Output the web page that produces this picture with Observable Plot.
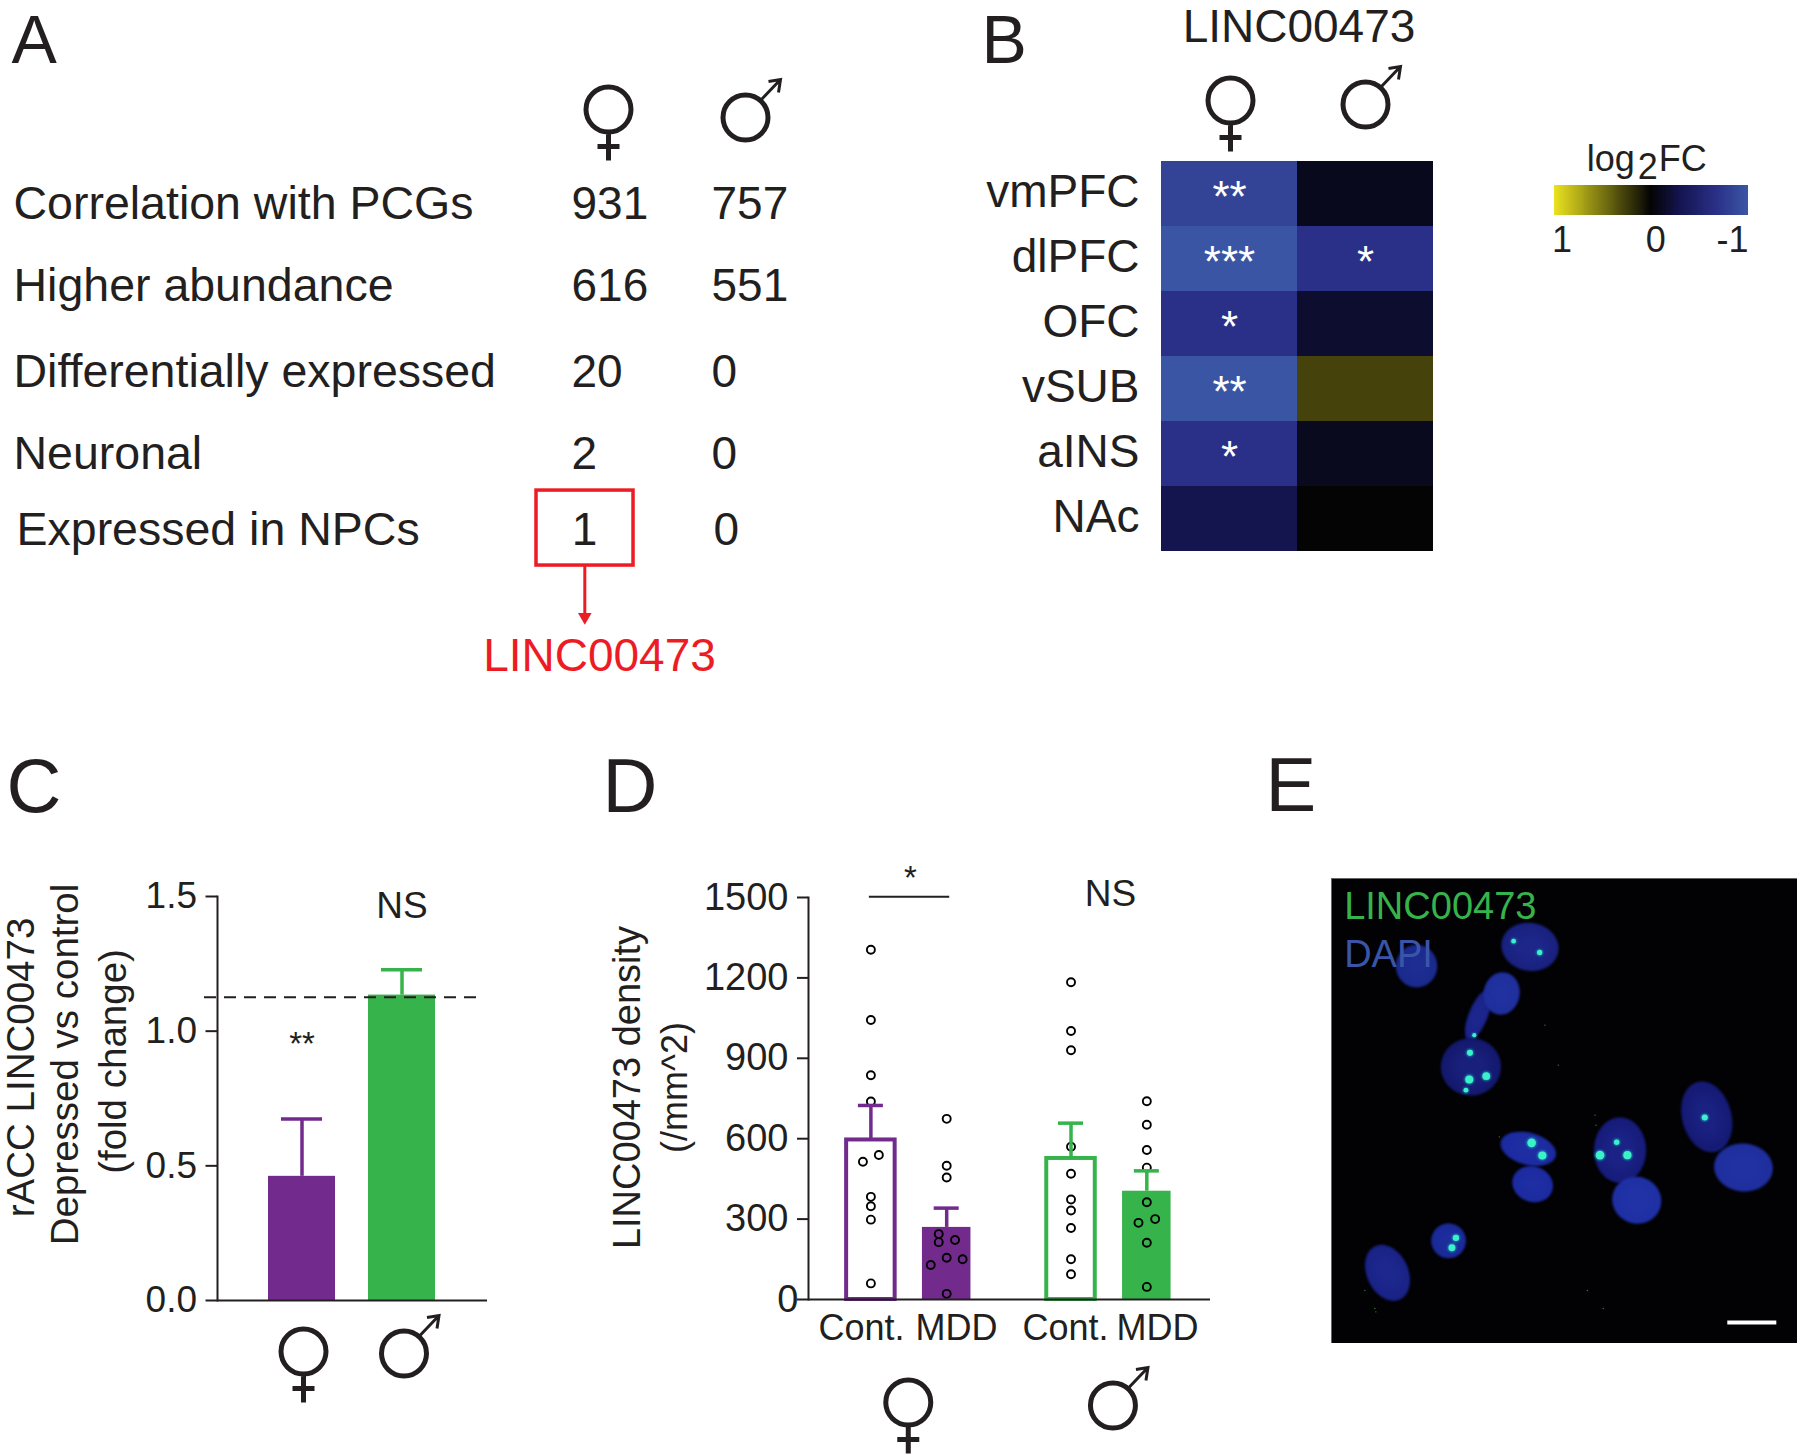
<!DOCTYPE html>
<html><head><meta charset="utf-8">
<script src="https://cdn.jsdelivr.net/npm/d3@7"></script>
<script src="https://cdn.jsdelivr.net/npm/@observablehq/plot@0.6"></script>
<style>
html,body{margin:0;padding:0;background:#fff}
#fig{position:relative;width:1800px;height:1455px;overflow:hidden;background:#fff}
#fig svg{position:absolute;background:transparent;max-width:none}
</style></head><body><div id="fig"></div>
<script>
// ---------- data ----------
const tableRows = ["Correlation with PCGs","Higher abundance","Differentially expressed","Neuronal","Expressed in NPCs"];
const femaleCounts = [931,616,20,2,1];
const maleCounts = [757,551,0,0,0];
const regions = ["vmPFC","dlPFC","OFC","vSUB","aINS","NAc"];
const heatFemale = [-0.85,-1,-0.68,-1,-0.68,-0.3];
const heatMale = [-0.1,-0.68,-0.17,0.28,-0.11,0];
const starsFemale = ["**","***","*","**","*",""];
const starsMale = ["","*","","","",""];
const sexes = ["♀","♂"];
const foldMean = [0.461,1.134];
const foldUpper = [0.674,1.228];
const foldRef = 1.126;
const groups = ["Cont.","MDD","Cont.","MDD"];
const densityMean = [599,269,530,404];
const densityUpper = [724,341,658,480];
const femaleContDots = [1305,1043,837,739,539,514,383,348,298,60];
const femaleContJitter = [0,0,0,0,.105,-.105,0,0,0,0];
const femaleMddDots = [674,499,455,244,214,222,156,150,129,21];
const femaleMddJitter = [0,0,0,-.105,-.105,.11,0,.21,-.21,0];
const maleContDots = [1184,1002,930,570,469,373,332,267,150,94];
const maleMddDots = [740,652,558,492,363,286,300,212,47];
const maleMddJitter = [0,0,0,0,0,-.11,.11,0,0];
const panelLetters = ["A","B","C","D","E"];

// ---------- layout constants ----------
const ink = "#231f20", purple = "#722b8d", green = "#36b34a", red = "#ed1c24";
const sans = "Liberation Sans";
const fig = document.getElementById("fig");
function place(p, left, top){ p.style.left = left+"px"; p.style.top = top+"px"; fig.appendChild(p); }
const rowNudge = [0,0,5,5.5,0];
const slots = [0,1,2.64,3.64];
const labelSlots = [-.124,1.13,2.567,3.78];
const barHalf = .32, capHalf = .165;
const letterX = [11,981,6,602,1265], letterY = [62,62,811,811,810], letterSize = [68,68,76,76,76];

// sex pictograms drawn as custom dot symbols
const venusSymbol = {draw(c){c.moveTo(22.5,0);c.arc(0,0,22.5,0,2*Math.PI);c.moveTo(0,22.5);c.lineTo(0,51);c.moveTo(-11,37);c.lineTo(11,37);}};
const marsRing = {draw(c){c.moveTo(22.5,0);c.arc(0,0,22.5,0,2*Math.PI);}};
const marsArrow = {draw(c){c.moveTo(15,-17);c.lineTo(35,-38);c.moveTo(23,-36);c.lineTo(35,-38);c.lineTo(33,-25);}};
const sexMark = (sex,o)=> sex===sexes[0]
  ? [Plot.dot([sex],{...o,symbol:venusSymbol,r:1,fill:"none",stroke:ink,strokeWidth:5,ariaLabel:"female"})]
  : [Plot.dot([sex],{...o,symbol:marsRing,r:1,fill:"none",stroke:ink,strokeWidth:5,ariaLabel:"male"}),
     Plot.dot([sex],{...o,symbol:marsArrow,r:1,fill:"none",stroke:ink,strokeWidth:3,ariaLabel:"male"})];

// Panel A table
const tableData = tableRows.map((r,i)=>({row:r,i,f:femaleCounts[i],m:maleCounts[i]}));
place(Plot.plot({
  width:980,height:700,marginLeft:13,marginRight:0,marginTop:0,marginBottom:0,
  x:{domain:[0,1],range:[571,711],axis:null},
  y:{domain:[0,4],range:[204,530],axis:null},
  style:{fontFamily:sans,color:ink,background:"transparent"},
  marks:[
    ...tableData.map(d=>Plot.text([d],{frameAnchor:"left",y:"i",text:"row",fontSize:46.5,fill:ink,textAnchor:"start",dy:rowNudge[d.i],dx:d.i===4?3:0})),
    ...tableData.map(d=>Plot.text([d],{x:()=>0,y:"i",text:"f",fontSize:46,fill:ink,textAnchor:d.i===4?"middle":"start",dx:d.i===4?13:0,dy:rowNudge[d.i]})),
    ...tableData.map(d=>Plot.text([d],{x:()=>1,y:"i",text:"m",fontSize:46,fill:ink,textAnchor:"start",dx:d.i===4?2:0,dy:rowNudge[d.i]})),
    ...sexMark(sexes[0],{x:()=>0,y:()=>-1,dx:37,dy:-13.5}),
    ...sexMark(sexes[1],{x:()=>1,y:()=>-1,dx:34,dy:-5.5}),
    Plot.rect([0],{x1:-.25,x2:.443,y1:3.51,y2:4.43,fill:"none",stroke:red,strokeWidth:3.5}),
    Plot.ruleX([.095],{y1:4.43,y2:5.04,stroke:red,strokeWidth:3}),
    Plot.dot([0],{x:.095,y:5.06,symbol:"triangle2",r:6.5,fill:red,rotate:180}),
    Plot.text(["LINC00473"],{x:.2,y:5.54,fontSize:46,fill:red})
  ]
}),0,0);

// Panel B heatmap
const heat = regions.flatMap((r,i)=>[
  {region:r,sex:sexes[0],v:heatFemale[i],s:starsFemale[i]},
  {region:r,sex:sexes[1],v:heatMale[i],s:starsMale[i]}
]);
const colorScale = {type:"linear",domain:[-1,-.68,-.3,0,1],range:["#3a55a4","#2a3088","#14144f","#040404","#ece41e"],interpolate:"rgb"};
place(Plot.plot({
  width:450,height:560,marginLeft:176,marginRight:1,marginTop:160,marginBottom:8,
  x:{domain:sexes,padding:0,axis:null},
  y:{domain:regions,padding:0,label:null},
  color:colorScale,
  style:{fontFamily:sans,color:ink,background:"transparent"},
  marks:[
    Plot.cell(heat,{x:"sex",y:"region",fill:"v"}),
    Plot.text(heat.filter(d=>d.s),{x:"sex",y:"region",text:"s",fill:"white",fontSize:44,dy:4}),
    Plot.axisY({tickSize:0,tickPadding:21,fontSize:46,label:null,fill:ink,dy:-2}),
    Plot.text(["LINC00473"],{frameAnchor:"top",lineAnchor:"middle",dy:-133,dx:2,fontSize:46,fill:ink}),
    ...sexMark(sexes[0],{x:()=>sexes[0],frameAnchor:"top",dy:-60,dx:1}),
    ...sexMark(sexes[1],{x:()=>sexes[1],frameAnchor:"top",dy:-56})
  ]
}),984,0);

// Panel B colour key
place(Plot.plot({
  width:270,height:130,marginLeft:26.5,marginRight:50,marginTop:55,marginBottom:45,
  x:{domain:[1,-1],axis:null},y:{axis:null},
  color:colorScale,
  style:{fontFamily:sans,color:ink,background:"transparent"},
  marks:[
    Plot.rect(d3.range(-1,1,.01),{x1:d=>d,x2:d=>d+.02,fill:d=>d,shapeRendering:"crispEdges"}),
    Plot.text(["1"],{x:()=>1,frameAnchor:"bottom",lineAnchor:"middle",dy:25,dx:-3,fontSize:36,fill:ink,textAnchor:"start"}),
    Plot.text(["0"],{x:()=>0,frameAnchor:"bottom",lineAnchor:"middle",dy:25,fontSize:36,fill:ink,dx:4}),
    Plot.text(["-1"],{x:()=>-1,frameAnchor:"bottom",lineAnchor:"middle",dy:25,fontSize:36,fill:ink,textAnchor:"end"}),
    Plot.text(["log"],{frameAnchor:"top",lineAnchor:"middle",dx:-17,dy:-26,fontSize:36,fill:ink,textAnchor:"end"}),
    Plot.text(["2"],{frameAnchor:"top",lineAnchor:"middle",dx:-4,dy:-18,fontSize:36,fill:ink}),
    Plot.text(["FC"],{frameAnchor:"top",lineAnchor:"middle",dx:7,dy:-26,fontSize:36,fill:ink,textAnchor:"start"})
  ]
}),1528,130);

// Panel C bars
const fold = sexes.map((s,i)=>({sex:s,mean:foldMean[i],upper:foldUpper[i],color:i?green:purple}));
place(Plot.plot({
  width:560,height:560,marginLeft:219,marginRight:71,marginTop:39,marginBottom:117,
  x:{domain:sexes,range:[253.5,453.5],paddingInner:.33,paddingOuter:.165,axis:null},
  y:{domain:[0,1.5],label:null},
  style:{fontFamily:sans,color:ink,background:"transparent"},
  marks:[
    Plot.barY(fold,{x:"sex",y:"mean",fill:"color"}),
    Plot.ruleX(fold,{x:"sex",y1:"mean",y2:"upper",stroke:"color",strokeWidth:3.5}),
    Plot.tickY(fold,{x:"sex",y:"upper",stroke:"color",strokeWidth:3.5,insetLeft:13,insetRight:13}),
    Plot.ruleY([foldRef],{stroke:ink,strokeWidth:2,strokeDasharray:"12 8",insetLeft:-13,insetRight:7}),
    Plot.ruleY([0],{stroke:ink,strokeWidth:2}),
    Plot.frame({anchor:"left",stroke:ink,strokeWidth:2}),
    Plot.axisY({ticks:[0,.5,1,1.5],tickFormat:".1f",tickSize:11.5,tickPadding:9,fontSize:37,strokeWidth:2,label:null,fill:ink,stroke:ink}),
    Plot.text(["**"],{x:()=>sexes[0],y:()=>.976,fontSize:33,fill:ink,dy:7}),
    Plot.text(["NS"],{x:()=>sexes[1],y:()=>1.474,fontSize:37,fill:ink,dy:3}),
    ...sexMark(sexes[0],{x:()=>sexes[0],y:()=>0,dx:1.5,dy:51}),
    ...sexMark(sexes[1],{x:()=>sexes[1],y:()=>0,dx:2,dy:53}),
    Plot.text(["rACC LINC00473"],{frameAnchor:"left",textAnchor:"middle",rotate:-90,dx:-196,dy:-31,fontSize:38.5,fill:ink}),
    Plot.text(["Depressed vs control"],{frameAnchor:"left",textAnchor:"middle",rotate:-90,dx:-152,dy:-34,fontSize:38.5,fill:ink}),
    Plot.text(["(fold change)"],{frameAnchor:"left",textAnchor:"middle",rotate:-90,dx:-104,dy:-37,fontSize:38.5,fill:ink})
  ]
}),-2,857);

// Panel D bars and points
const density = groups.map((g,i)=>({group:g,slot:slots[i],mean:densityMean[i],upper:densityUpper[i],color:i<2?purple:green,filled:i%2===1}));
const pts = (vals,slot,jit)=>vals.map((v,i)=>({v,x:slot+(jit?jit[i]:0)}));
const dots = [...pts(femaleContDots,slots[0],femaleContJitter),...pts(femaleMddDots,slots[1],femaleMddJitter),
              ...pts(maleContDots,slots[2]),...pts(maleMddDots,slots[3],maleMddJitter)];
place(Plot.plot({
  width:640,height:608,marginLeft:230,marginRight:8,marginTop:50,marginBottom:156,
  x:{domain:[-.823,4.48],axis:null},
  y:{domain:[0,1500],label:null},
  style:{fontFamily:sans,color:ink,background:"transparent"},
  marks:[
    Plot.rectY(density.filter(d=>!d.filled),{x1:d=>d.slot-barHalf,x2:d=>d.slot+barHalf,y1:0,y2:"mean",fill:"white",stroke:"color",strokeWidth:4,insetTop:1}),
    Plot.rectY(density.filter(d=>d.filled),{x1:d=>d.slot-barHalf,x2:d=>d.slot+barHalf,y1:0,y2:"mean",fill:"color"}),
    Plot.dot(dots,{x:"x",y:"v",r:4,fill:"none",stroke:"black",strokeWidth:1.9}),
    Plot.ruleX(density,{x:"slot",y1:"mean",y2:"upper",stroke:"color",strokeWidth:3.5}),
    Plot.ruleY(density,{x1:d=>d.slot-capHalf,x2:d=>d.slot+capHalf,y:"upper",stroke:"color",strokeWidth:3.5}),
    Plot.ruleY([0],{stroke:ink,strokeWidth:2}),
    Plot.frame({anchor:"left",stroke:ink,strokeWidth:2}),
    Plot.axisY({ticks:[300,600,900,1200,1500],tickFormat:"d",tickSize:11,tickPadding:9,fontSize:38,label:null,fill:ink,stroke:ink,strokeWidth:2}),
    Plot.axisY({ticks:[0],tickFormat:"d",tickSize:11,tickPadding:-1,fontSize:38,label:null,fill:ink,stroke:ink,strokeWidth:2}),
    Plot.ruleY([1503],{x1:-.02,x2:1.04,stroke:ink,strokeWidth:2}),
    Plot.text(["*"],{x:()=>.52,y:()=>1510,fontSize:33,fill:ink,dy:-16}),
    Plot.text(["NS"],{x:()=>3.16,y:()=>1515,fontSize:37,fill:ink,dy:1}),
    Plot.text(groups.map((g,i)=>({g,x:labelSlots[i]})),{x:"x",y:()=>0,text:"g",fontSize:36,fill:ink,dy:29}),
    ...sexMark(sexes[0],{x:()=>.48,y:()=>0,dx:1,dy:103}),
    ...sexMark(sexes[1],{x:()=>3.18,y:()=>0,dx:1,dy:106}),
    Plot.text(["LINC00473 density"],{frameAnchor:"left",textAnchor:"middle",rotate:-90,dx:-181,dy:-11,fontSize:38,fill:ink}),
    Plot.text(["(/mm^2)"],{frameAnchor:"left",textAnchor:"middle",rotate:-90,dx:-133,dy:-11,fontSize:36,fill:ink})
  ]
}),578,847);

// Panel E micrograph, units = image pixels
const nuclei = [
  {x:255,y:263,rx:60,ry:62,a:0,c:"#1b2a8c"},
  {x:595,y:205,rx:84,ry:70,a:10,c:"#1a2280"},
  {x:440,y:410,rx:78,ry:26,a:-68,c:"#1a2388"},
  {x:510,y:345,rx:52,ry:62,a:10,c:"#1f2f9c"},
  {x:418,y:565,rx:88,ry:84,a:0,c:"#151a70"},
  {x:590,y:811,rx:83,ry:46,a:15,c:"#1c2ba0"},
  {x:603,y:917,rx:60,ry:51,a:20,c:"#1c2ba0"},
  {x:865,y:815,rx:76,ry:96,a:0,c:"#171d7c"},
  {x:915,y:965,rx:72,ry:68,a:20,c:"#1f30a4"},
  {x:1125,y:715,rx:72,ry:106,a:-15,c:"#161b76"},
  {x:1235,y:867,rx:86,ry:70,a:5,c:"#1f2f9e"},
  {x:351,y:1087,rx:50,ry:50,a:0,c:"#1b2a98"},
  {x:168,y:1183,rx:60,ry:86,a:-25,c:"#1a2386"}
];
const spotX = [415,413,464,403,600,632,805,887,855,1119,373,361,624,546,428];
const spotY = [523,603,593,635,793,831,830,830,791,717,1078,1108,222,188,470];
const spotR = [2,3.5,3.2,1.3,4,3.6,4,3.6,1.6,2,2.2,2.6,1.5,1.2,.9];
const speckX = [640,680,503,790,793,767,100,130,133,815];
const speckY = [440,560,775,710,740,1236,1236,1290,1300,1290];
const ellipse = (n,k=1)=>{const t=n.a*Math.PI/180;return d3.range(40).map(i=>{const u=i/40*2*Math.PI,px=n.rx*k*Math.cos(u),py=n.ry*k*Math.sin(u);return {x:n.x+px*Math.cos(t)-py*Math.sin(t),y:n.y+px*Math.sin(t)+py*Math.cos(t)}})};
const soft = px => (i,s,v,d,c,next)=>{const g=next(i,s,v,d,c);g.style.filter=`blur(${px}px)`;return g;};
const spots = spotX.map((x,i)=>({x,y:spotY[i],r:spotR[i]}));
place(Plot.plot({
  width:466,height:465,margin:0,
  x:{domain:[0,1397],axis:null},
  y:{domain:[0,1395],range:[0,465],axis:null},
  style:{fontFamily:sans,background:"transparent"},
  marks:[
    Plot.frame({fill:"#020204",stroke:"#666"}),
    ...nuclei.map(n=>Plot.line(ellipse(n),{x:"x",y:"y",fill:n.c,stroke:n.c,curve:"linear-closed",render:soft(.8)})),
    ...nuclei.map(n=>Plot.line(ellipse(n,.65),{x:"x",y:"y",fill:"#2a3cb0",fillOpacity:.18,stroke:"none",curve:"linear-closed",render:soft(5)})),
    Plot.dot(spots,{x:"x",y:"y",r:d=>d.r*1.5,fill:"#1793b5",stroke:"none",render:soft(.8)}),
    Plot.dot(spots,{x:"x",y:"y",r:"r",fill:"#3cf0c8",stroke:"none",render:soft(.5)}),
    Plot.dot(speckX.map((x,i)=>({x,y:speckY[i]})),{x:"x",y:"y",r:.7,fill:"#3c7a3c",stroke:"none"}),
    Plot.ruleY([1332],{x1:1188,x2:1335,stroke:"white",strokeWidth:4}),
    Plot.text(["LINC00473"],{x:()=>38,y:()=>85,fontSize:38,fill:green,textAnchor:"start"}),
    Plot.text(["DAPI"],{x:()=>38,y:()=>230,fontSize:38,fill:"#3a55a8",textAnchor:"start"})
  ]
}),1331,878);

// Panel letters
place(Plot.plot({
  width:1800,height:1455,margin:0,
  x:{domain:[0,1800],axis:null},y:{domain:[0,1455],range:[0,1455],axis:null},
  style:{fontFamily:sans,background:"transparent",pointerEvents:"none"},
  marks:panelLetters.map((l,i)=>Plot.text([l],{x:()=>letterX[i],y:()=>letterY[i],fontSize:letterSize[i],fill:ink,textAnchor:"start",lineAnchor:"bottom"}))
}),0,0);
</script></body></html>
